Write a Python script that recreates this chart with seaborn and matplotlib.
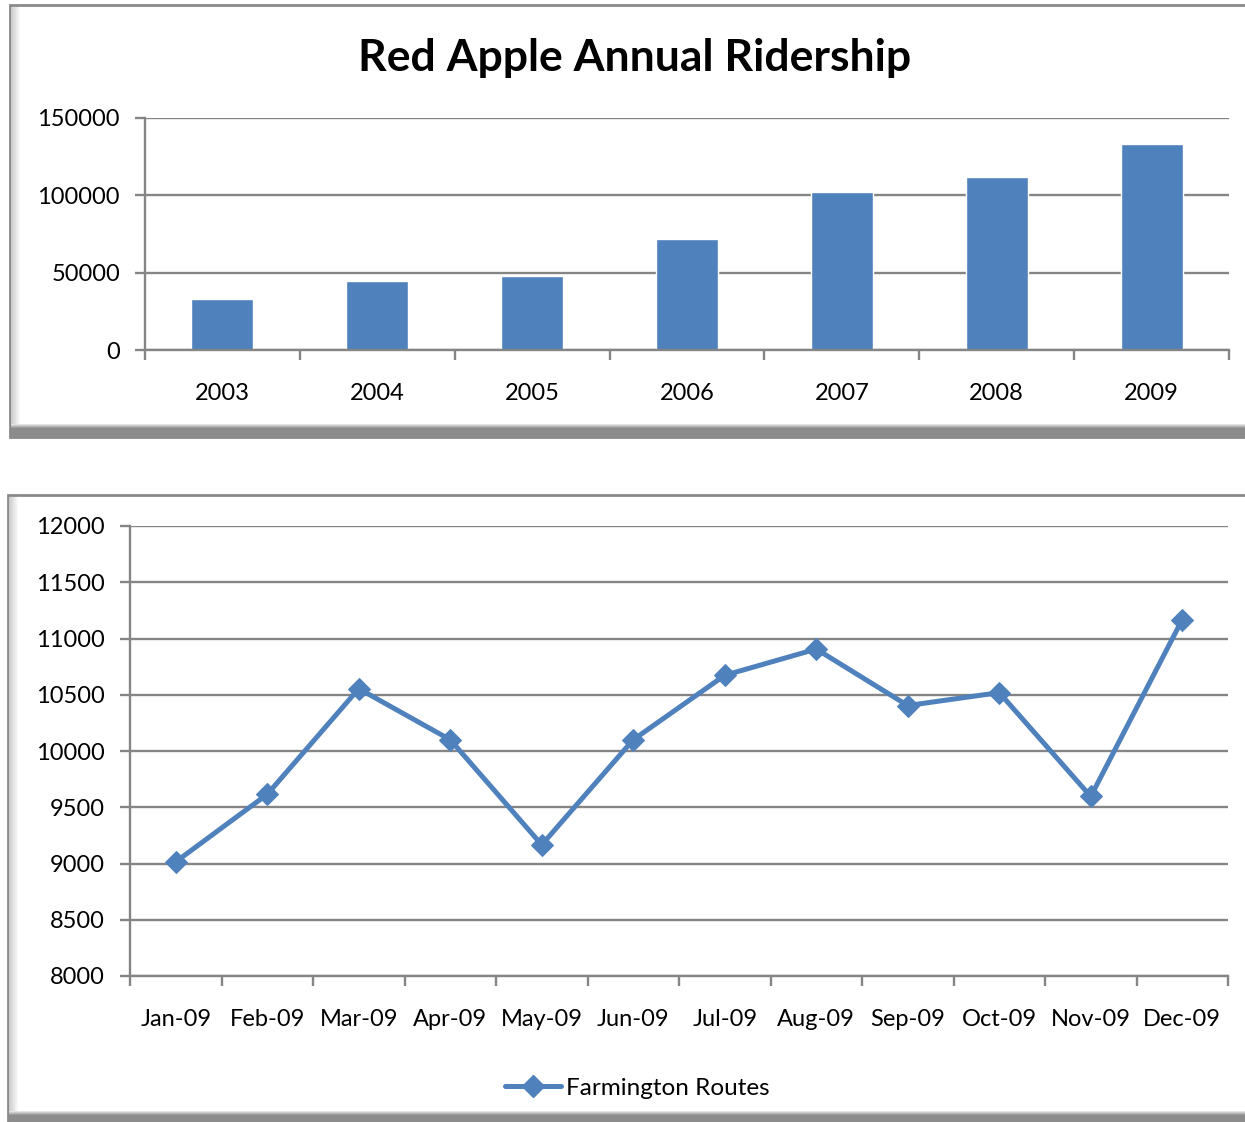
import numpy as np
import pandas as pd
import matplotlib
matplotlib.use("Agg")
import matplotlib.pyplot as plt
from matplotlib.patches import Rectangle
from matplotlib.lines import Line2D
import seaborn as sns

# ---------------- data ----------------
years = ["2003", "2004", "2005", "2006", "2007", "2008", "2009"]
ridership = [32700, 44800, 48000, 72000, 102000, 111700, 133000]

months = ["Jan-09", "Feb-09", "Mar-09", "Apr-09", "May-09", "Jun-09",
          "Jul-09", "Aug-09", "Sep-09", "Oct-09", "Nov-09", "Dec-09"]
farmington = [9015, 9615, 10554, 10100, 9166, 10100,
              10673, 10906, 10404, 10519, 9596, 11168]

title = "Red Apple Annual Ridership"
series_name = "Farmington Routes"
bar_yticks = [0, 50000, 100000, 150000]
line_yticks = [8000, 8500, 9000, 9500, 10000, 10500, 11000, 11500, 12000]

# ---------------- style ----------------
sns.set_theme(style="white")
plt.rcParams['font.family'] = ['Lato', 'DejaVu Sans']
BLUE = "#4F81BD"
GRID = "#858585"

W, H = 1245, 1122
fig = plt.figure(figsize=(W / 100, H / 100), dpi=100)
fig.patch.set_facecolor("white")


def px_rect(x0, y0, x1, y1):
    """pixel box (top-left origin) -> figure fraction [l, b, w, h]"""
    return [x0 / W, 1 - y1 / H, (x1 - x0) / W, (y1 - y0) / H]


def frame(x0, y0, x1, y1):
    fig.patches.append(Rectangle((x0 / W, 1 - y1 / H), (x1 - x0) / W, (y1 - y0) / H,
                                 transform=fig.transFigure, facecolor="white",
                                 edgecolor="#8a8a8a", lw=2.0, zorder=-3))
    for i in range(9):
        c = 0.80 + i * 0.022
        fig.patches.append(Rectangle(((x0 + 1 + i) / W, 1 - (y1 - 10) / H), 1 / W,
                                     (y1 - y0 - 12) / H, transform=fig.transFigure,
                                     facecolor=(c, c, c), edgecolor="none", zorder=-2))
    fig.patches.append(Rectangle(((x0 + 1) / W, 1 - y1 / H), (x1 - x0) / W, 9 / H,
                                 transform=fig.transFigure, facecolor="#8c8c8c",
                                 edgecolor="none", zorder=-1))
    for i in range(4):
        c = 0.62 + i * 0.09
        fig.patches.append(Rectangle(((x0 + 1) / W, 1 - (y1 - 9 - i) / H), (x1 - x0) / W, 1 / H,
                                     transform=fig.transFigure, facecolor=(c, c, c),
                                     edgecolor="none", zorder=-1))


frame(10, 5, 1250, 437)
frame(8, 495, 1250, 1124)


def style_axes(ax, n):
    ax.set_facecolor("none")
    ax.set_zorder(5)
    for s in ["top", "right"]:
        ax.spines[s].set_visible(False)
    for s in ["left", "bottom"]:
        ax.spines[s].set_color(GRID)
        ax.spines[s].set_linewidth(1.7)
    ax.yaxis.grid(True, color=GRID, linewidth=1.7)
    ax.set_axisbelow(True)
    ax.set_xlim(-0.5, n - 0.5)
    ax.set_xticks(np.arange(n))
    ax.set_xticks(np.arange(n + 1) - 0.5, minor=True)
    ax.tick_params(axis="x", which="major", length=0, pad=24, labelsize=17, colors="black")
    ax.tick_params(axis="x", which="minor", length=7, width=1.7, color=GRID, direction="out",
                   bottom=True)
    ax.tick_params(axis="y", which="major", length=7, width=1.7, color=GRID, pad=11,
                   labelsize=17, direction="out", left=True, labelcolor="black")
    ax.set_xlabel("")
    ax.set_ylabel("")


# ---------------- top: bar chart ----------------
ax1 = fig.add_axes(px_rect(145, 118, 1229, 350))
df1 = pd.DataFrame({"year": years, "riders": ridership})
sns.barplot(data=df1, x="year", y="riders", color=BLUE, saturation=1, width=0.4, ax=ax1)
ax1.set_ylim(0, 150000)
ax1.set_yticks(bar_yticks)
ax1.set_yticklabels([str(v) for v in bar_yticks])
style_axes(ax1, len(years))
ax1.set_xticklabels(years)
fig.text(635 / W, 1 - 58 / H, title, ha="center", va="center",
         fontsize=32, fontweight="bold", color="black")

# ---------------- bottom: line chart ----------------
ax2 = fig.add_axes(px_rect(130, 526, 1228, 976))
df2 = pd.DataFrame({"pos": np.arange(len(months)), "value": farmington})
sns.lineplot(data=df2, x="pos", y="value", color=BLUE, linewidth=3.6, marker="D",
             markersize=11, markeredgecolor=BLUE, label=series_name, ax=ax2)
ax2.set_ylim(8000, 12000)
ax2.set_yticks(line_yticks)
ax2.set_yticklabels([str(v) for v in line_yticks])
style_axes(ax2, len(months))
ax2.set_xticklabels(months)
ax2.get_legend().remove()

handle = Line2D([], [], color=BLUE, linewidth=3.6, marker="D", markersize=11,
                markeredgecolor=BLUE)
fig.legend([handle], [series_name], loc="center", bbox_to_anchor=(637 / W, 1 - 1088 / H),
           frameon=False, fontsize=17.5, handlelength=2.3, handletextpad=0.2,
           labelcolor="black")

fig.savefig("out.png", dpi=100, facecolor="white")
